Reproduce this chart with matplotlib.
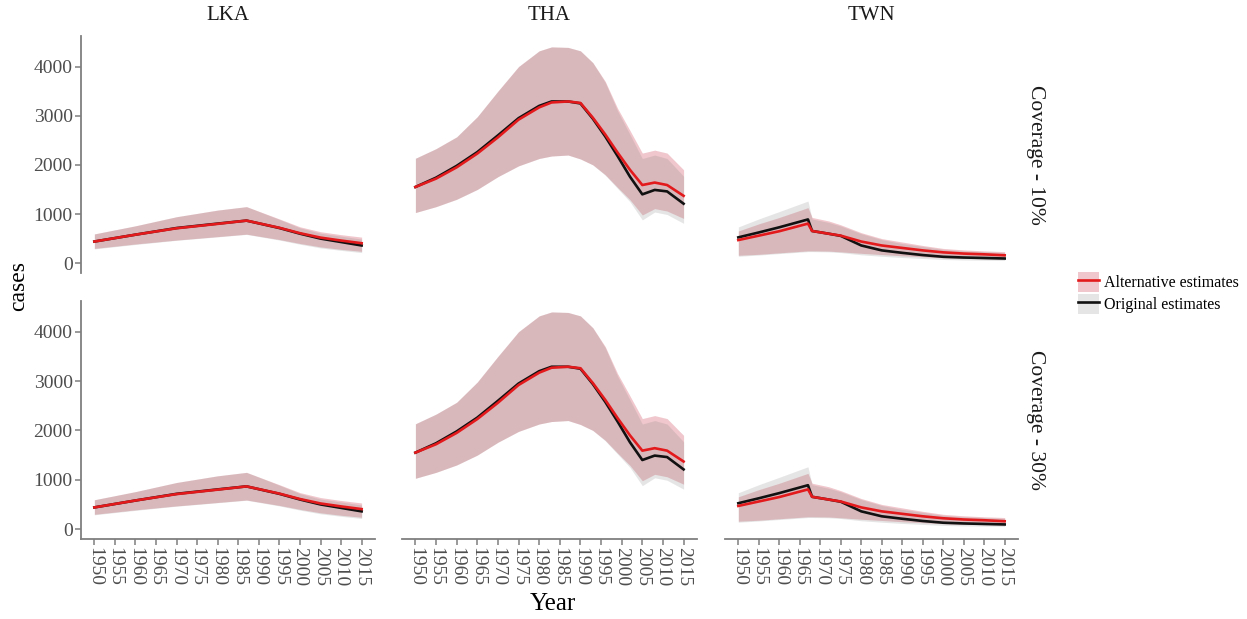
import matplotlib
matplotlib.use("Agg")
import matplotlib.pyplot as plt
from matplotlib.patches import Patch
from matplotlib.lines import Line2D

plt.rcParams["font.family"] = ["Liberation Serif", "DejaVu Serif"]

COUNTRIES = ["LKA", "THA", "TWN"]
COVERAGES = ["Coverage - 10%", "Coverage - 30%"]
XTICKS = list(range(1950, 2016, 5))
YTICKS = [0, 1000, 2000, 3000, 4000]

# LKA
LKA_YEARS = [1950, 1960, 1970, 1980, 1987, 1995, 2000, 2005, 2010, 2015]
LKA_ALT = [440, 580, 710, 800, 866, 720, 610, 520, 460, 406]
LKA_ORIG = [440, 580, 715, 805, 866, 715, 600, 500, 430, 360]
LKA_ALT_HI = [595, 760, 945, 1080, 1150, 900, 740, 640, 580, 530]
LKA_ALT_LO = [300, 390, 470, 540, 590, 480, 400, 330, 280, 240]
LKA_ORIG_HI = [595, 760, 945, 1080, 1150, 890, 720, 610, 550, 490]
LKA_ORIG_LO = [290, 380, 465, 535, 585, 470, 385, 310, 260, 215]

# THA
THA_YEARS = [1950, 1955, 1960, 1965, 1970, 1975, 1980, 1983, 1987, 1990,
             1993, 1996, 1999, 2002, 2005, 2008, 2011, 2015]
THA_ALT = [1550, 1720, 1950, 2230, 2560, 2920, 3170, 3270, 3290, 3260,
           2960, 2620, 2250, 1900, 1590, 1640, 1590, 1370]
THA_ORIG = [1550, 1740, 1980, 2260, 2600, 2950, 3200, 3290, 3290, 3250,
            2940, 2580, 2180, 1760, 1400, 1490, 1460, 1210]
THA_ALT_HI = [2134, 2330, 2570, 2980, 3500, 4000, 4320, 4400, 4390, 4320,
              4080, 3700, 3150, 2700, 2240, 2300, 2240, 1900]
THA_ALT_LO = [1030, 1150, 1300, 1500, 1760, 1980, 2130, 2180, 2200, 2120,
              2000, 1800, 1540, 1290, 980, 1110, 1060, 910]
THA_ORIG_HI = [2134, 2330, 2570, 2980, 3500, 4000, 4320, 4400, 4390, 4320,
               4080, 3680, 3100, 2620, 2130, 2200, 2130, 1770]
THA_ORIG_LO = [1030, 1150, 1300, 1500, 1760, 1980, 2130, 2180, 2200, 2120,
               2000, 1790, 1520, 1250, 880, 1040, 990, 810]

# TWN
TWN_YEARS = [1950, 1955, 1960, 1967, 1968, 1972, 1975, 1980, 1985, 1990,
             1995, 2000, 2005, 2010, 2015]
TWN_ALT = [470, 560, 650, 805, 655, 600, 560, 440, 360, 310,
           260, 220, 195, 180, 160]
TWN_ORIG = [525, 625, 730, 890, 655, 600, 555, 360, 260, 210,
            165, 130, 115, 105, 95]
TWN_ALT_HI = [655, 800, 930, 1130, 930, 860, 780, 620, 500, 430,
              360, 300, 270, 250, 235]
TWN_ALT_LO = [160, 180, 210, 250, 250, 245, 230, 200, 175, 150,
              130, 110, 100, 90, 85]
TWN_ORIG_HI = [737, 900, 1050, 1264, 900, 830, 757, 600, 480, 400,
               340, 280, 250, 235, 215]
TWN_ORIG_LO = [140, 165, 195, 235, 235, 230, 215, 170, 140, 115,
               95, 75, 65, 60, 55]

# both coverage rows look identical in the source
DATA = {
    "LKA": (LKA_YEARS, LKA_ALT, LKA_ALT_LO, LKA_ALT_HI, LKA_ORIG, LKA_ORIG_LO, LKA_ORIG_HI),
    "THA": (THA_YEARS, THA_ALT, THA_ALT_LO, THA_ALT_HI, THA_ORIG, THA_ORIG_LO, THA_ORIG_HI),
    "TWN": (TWN_YEARS, TWN_ALT, TWN_ALT_LO, TWN_ALT_HI, TWN_ORIG, TWN_ORIG_LO, TWN_ORIG_HI),
}

ALT_FILL = ("#d4606f", 0.35)
ORIG_FILL = ("#808080", 0.2)
RED = "#e31a1c"
BLACK = "#111111"
AXCOL = "#7f7f7f"
TXTCOL = "#4d4d4d"

W, H = 1247, 619
fig = plt.figure(figsize=(W / 100, H / 100), dpi=100)

cols_px = [(81, 375), (402, 697), (725, 1018)]
rows_px = [(36, 273), (301, 539)]

for r, (top, bot) in enumerate(rows_px):
    for c, (lft, rgt) in enumerate(cols_px):
        ax = fig.add_axes([lft / W, 1 - bot / H, (rgt - lft) / W, (bot - top) / H])
        yrs, alt, alo, ahi, orig, olo, ohi = DATA[COUNTRIES[c]]
        ax.fill_between(yrs, alo, ahi, color=ALT_FILL[0], alpha=ALT_FILL[1], lw=0)
        ax.fill_between(yrs, olo, ohi, color=ORIG_FILL[0], alpha=ORIG_FILL[1], lw=0)
        ax.plot(yrs, orig, color=BLACK, lw=1.9, solid_joinstyle="round")
        ax.plot(yrs, alt, color=RED, lw=1.9, solid_joinstyle="round")
        ax.set_xlim(1946.75, 2018.25)
        ax.set_ylim(-200, 4622)
        for s in ax.spines.values():
            s.set_visible(False)
        ax.tick_params(colors=AXCOL, labelcolor=TXTCOL, width=1.1, length=4,
                       labelsize=14, pad=2)
        if c == 0:
            ax.spines["left"].set_visible(True)
            ax.spines["left"].set_color(AXCOL)
            ax.spines["left"].set_linewidth(1.3)
            ax.set_yticks(YTICKS)
        else:
            ax.set_yticks([])
        if r == 1:
            ax.spines["bottom"].set_visible(True)
            ax.spines["bottom"].set_color(AXCOL)
            ax.spines["bottom"].set_linewidth(1.3)
            ax.set_xticks(XTICKS)
            ax.set_xticklabels([str(x) for x in XTICKS], rotation=270)
        else:
            ax.set_xticks([])
        if r == 0:
            fig.text((lft + rgt) / 2 / W, 1 - 16 / H, COUNTRIES[c],
                     ha="center", va="center", fontsize=15, color="#1a1a1a")
    fig.text(1035 / W, 1 - (top + bot) / 2 / H, COVERAGES[r], rotation=270,
             ha="center", va="center", fontsize=15.5, color="#1a1a1a")

fig.text(19 / W, 1 - 286 / H, "cases", rotation=90, ha="center", va="center",
         fontsize=17)
fig.text(553 / W, 1 - 604 / H, "Year", ha="center", va="center", fontsize=18)

handles = [
    (Patch(facecolor=ALT_FILL[0], alpha=ALT_FILL[1], lw=0), Line2D([], [], color=RED, lw=1.9)),
    (Patch(facecolor=ORIG_FILL[0], alpha=ORIG_FILL[1], lw=0), Line2D([], [], color=BLACK, lw=1.9)),
]
fig.legend(handles, ["Alternative estimates", "Original estimates"],
           loc="upper left", bbox_to_anchor=(1072 / W, 1 - 266 / H),
           frameon=False, fontsize=11.5, handlelength=1.3, handleheight=1.5,
           labelspacing=0.15, handletextpad=0.3, borderaxespad=0)

fig.savefig("out.png", dpi=100)
